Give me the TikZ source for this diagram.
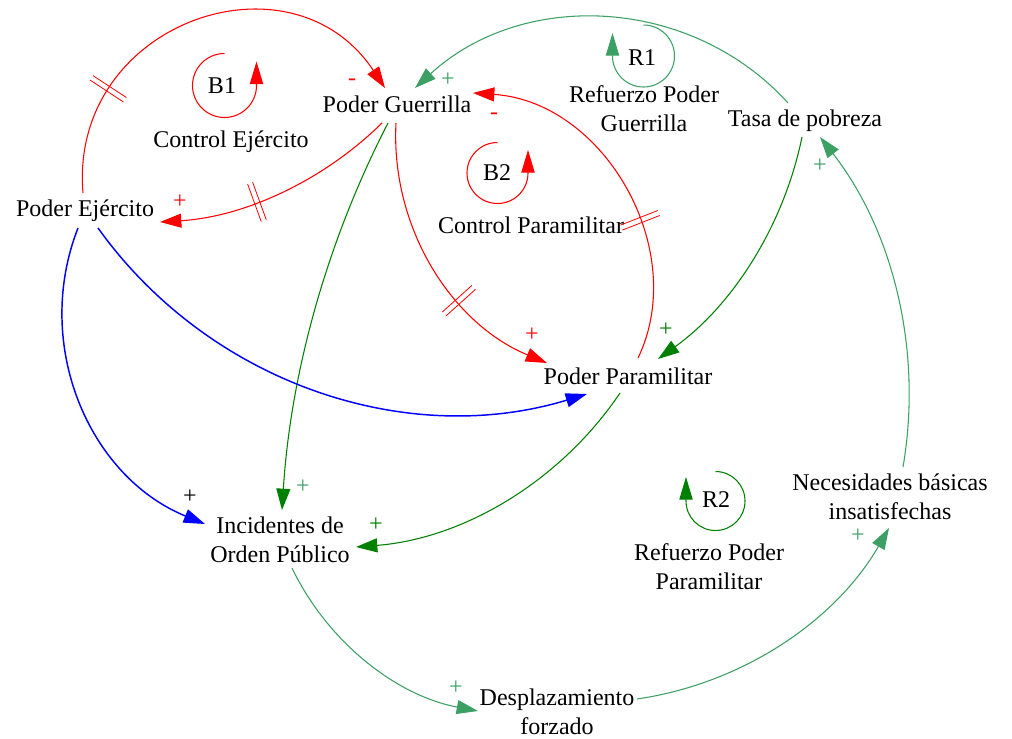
\documentclass[tikz,border=0pt]{standalone}
\usepackage{fontspec}
\setmainfont{Liberation Serif}
\usetikzlibrary{arrows.meta,decorations.markings,calc}
\definecolor{cred}{RGB}{255,0,0}
\definecolor{cblue}{RGB}{0,0,255}
\definecolor{cgreen}{RGB}{0,128,0}
\definecolor{csea}{RGB}{60,160,100}
\begin{document}
\begin{tikzpicture}[x=0.75pt,y=-0.75pt,
  lbl/.style={inner sep=0pt, align=center, font=\fontsize{18}{22}\selectfont},
  sgn/.style={inner sep=0pt, font=\fontsize{18}{22}\selectfont},
  link/.style={line width=0.8pt, -{Triangle[length=16pt,width=10.5pt]}},
  delaymark/.style={postaction={decorate}, decoration={markings,
      mark=at position #1 with {\draw[-,line width=0.6pt] (-2pt,-15pt) -- (-2pt,15pt) (2pt,-15pt) -- (2pt,15pt);}}},
  looparc/.style={line width=0.8pt, -{Triangle[length=17pt,width=10pt]}},
]
\useasboundingbox (0,0) rectangle (1012,738);

% variables
\node[lbl] (pg)  at (397,104)   {Poder Guerrilla};
\node[lbl] (pe)  at (85,211)    {Poder Ejército};
\node[lbl] (tp)  at (805,121)   {Tasa de pobreza};
\node[lbl] (pp)  at (628,376)   {Poder Paramilitar};
\node[lbl] (iop) at (280,539.5) {Incidentes de\\Orden Público};
\node[lbl] (df)  at (557,711.5) {Desplazamiento\\forzado};
\node[lbl] (nbi) at (890,496.5) {Necesidades básicas\\insatisfechas};

% loop names
\node[lbl] (ce)  at (231,142)   {Control Ejército};
\node[lbl] (cp)  at (531,225)   {Control Paramilitar};
\node[lbl] (rpg) at (644,108.8) {Refuerzo Poder\\Guerrilla};
\node[lbl] (rpp) at (709,566.5) {Refuerzo Poder\\Paramilitar};

% loop identifiers
\node[lbl] (b1) at (222,86)  {B1};
\node[lbl] (b2) at (497,173) {B2};
\node[lbl] (r1) at (642,58)  {R1};
\node[lbl] (r2) at (716,500) {R2};

% loop direction symbols
\draw[looparc, cred] ($(b1)+(2.5,-32.5)$) arc[start angle=270, end angle=0, radius=32] -- ++(0,-24);
\draw[looparc, cred] ($(b2)+(0.5,-30.5)$) arc[start angle=270, end angle=0, radius=30.5] -- ++(0,-23);
\draw[looparc, csea] ($(r1)+(1.5,-33)$) arc[start angle=270, end angle=540, radius=31] -- ++(0,-23);
\draw[looparc, cgreen] ($(r2)+(-0.5,-28.5)$) arc[start angle=270, end angle=540, radius=29.5] -- ++(0,-24);

% red links
\draw[link, cred, delaymark=0.25] ($(pe)+(-2,-18)$) .. controls (68.8,23) and (290.6,-54.2) .. ($(pg)+(-12,-16)$);
\node[sgn, cred] (s1) at (352,82) {-};
\draw[link, cred, delaymark=0.6] ($(pg)+(-15,19)$) .. controls (322.3,181.7) and (243.5,216.9) .. ($(pe)+(75,11)$);
\node[sgn, cred] (s2) at (180,201.5) {+};
\draw[link, cred, delaymark=0.64] ($(pg)+(-1,19)$) .. controls (390.5,226.9) and (450.9,323.1) .. ($(pp)+(-81,-13)$);
\node[sgn, cred] (s3) at (532,335) {+};
\draw[link, cred, delaymark=0.39] ($(pp)+(10,-18)$) .. controls (690,250) and (604.2,101.7) .. ($(pg)+(76,-11)$);
\node[sgn, cred] (s4) at (494,116) {-};

% green links
\draw[link, cgreen] ($(pg)+(-9,19)$) .. controls (326.4,242.5) and (290.6,373.7) .. ($(iop)+(2,-29.5)$);
\node[sgn, csea] (s5) at (303,487) {+};
\draw[link, csea] ($(tp)+(-17,-18)$) .. controls (692,-3) and (524,-11.8) .. ($(pg)+(18,-16)$);
\node[sgn, csea] (s6) at (448,80) {+};
\draw[link, cgreen] ($(tp)+(-3,16)$) .. controls (783.6,226.5) and (732.2,305.7) .. ($(pp)+(30,-17)$);
\node[sgn, cgreen] (s7) at (666,330) {+};
\draw[link, cgreen] ($(pp)+(-8,17)$) .. controls (560.1,481.9) and (462.9,538.7) .. ($(iop)+(76,7.5)$);
\node[sgn, cgreen] (s8) at (376,525) {+};
\draw[link, csea] ($(iop)+(12,28.5)$) .. controls (327.8,642.5) and (396.8,695.7) .. ($(df)+(-79,-0.5)$);
\node[sgn, csea] (s9) at (456,688) {+};
\draw[link, csea] ($(df)+(80,-12.5)$) .. controls (742.8,683.6) and (835.6,620.6) .. ($(nbi)+(-1,31.5)$);
\node[sgn, csea] (s10) at (858,536) {+};
\draw[link, csea] ($(nbi)+(13,-29.5)$) .. controls (923.1,350.2) and (892.9,230.4) .. ($(tp)+(15,16)$);
\node[sgn, csea] (s11) at (820,166) {+};

% blue links
\draw[link, cblue, line width=1.1pt] ($(pe)+(13,17)$) .. controls (208.6,382.4) and (405.2,449.2) .. ($(pp)+(-41,18)$);
\draw[link, cblue, line width=1.1pt] ($(pe)+(-7,17)$) .. controls (32.3,344.8) and (88.9,476.6) .. ($(iop)+(-75,-15.5)$);
\node[sgn, black] (s12) at (190,497) {+};
\end{tikzpicture}
\end{document}
